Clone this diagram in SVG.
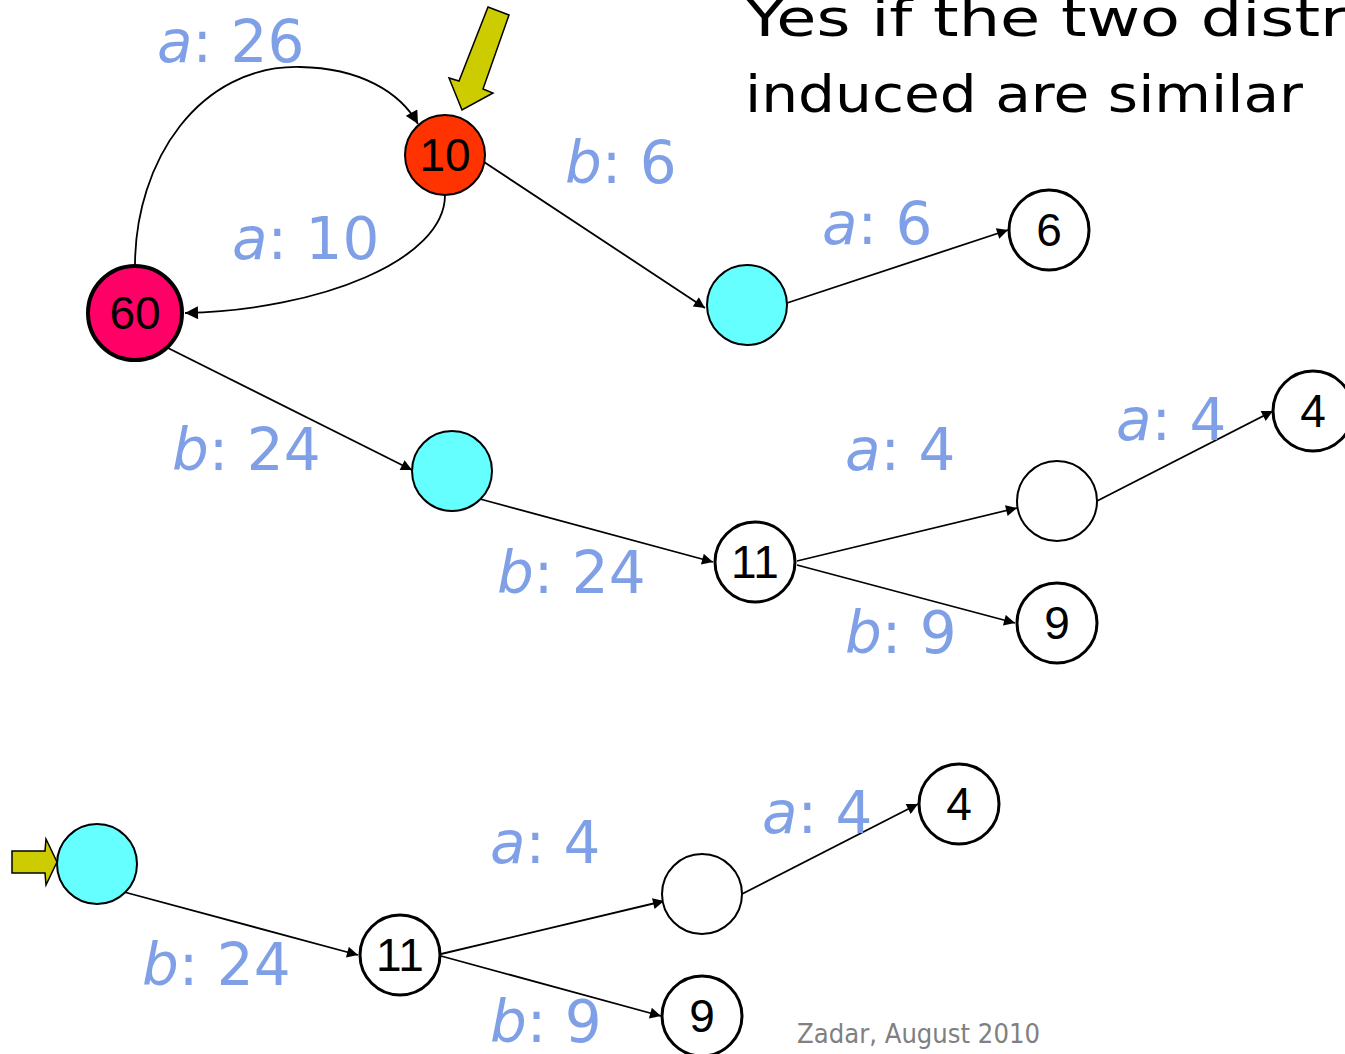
<svg xmlns="http://www.w3.org/2000/svg" width="1345" height="1054" viewBox="0 0 1345 1054">
<style>
.n{stroke:#000;stroke-width:3}
.thin{stroke-width:2}
.e{fill:none;stroke:#000;stroke-width:1.8;marker-end:url(#ah)}
.lb{font-family:"DejaVu Sans",Verdana,sans-serif;font-size:58px;fill:#7F9FE6}
.lb tspan.i{font-style:italic}
.t{font-family:"Liberation Sans",Arial,sans-serif;font-size:46px;fill:#000;text-anchor:middle}
.y{fill:#CCCC00;stroke:#000;stroke-width:1.5}
.cap{font-family:"DejaVu Sans",sans-serif;font-size:52px;fill:#000}
</style>
<defs>
<marker id="ah" viewBox="0 0 10 10" refX="10" refY="5" markerWidth="13" markerHeight="11" markerUnits="userSpaceOnUse" orient="auto">
<path d="M0,0 L10,5 L0,10 z" fill="#000"/>
</marker>
<marker id="ah2" viewBox="0 0 10 10" refX="10" refY="5" markerWidth="15" markerHeight="13" markerUnits="userSpaceOnUse" orient="auto">
<path d="M0,0 L10,5 L0,10 z" fill="#000"/>
</marker>
</defs>
<rect width="1345" height="1054" fill="#fff"/>
<g id="caption">
<text class="cap" x="745" y="36" textLength="620" lengthAdjust="spacingAndGlyphs">Yes if the two distri</text>
<text class="cap" x="745" y="112" textLength="558" lengthAdjust="spacingAndGlyphs">induced are similar</text>
</g>
<g id="connectors">
<path class="e" style="marker-end:url(#ah2)" d="M135,266 C135,160 200,65 300,67 C360,68 400,92 418,124"/>
<path class="e" style="marker-end:url(#ah2)" d="M445,195 C445,260 320,310 185,313"/>
<path class="e" d="M481,160 L705,308"/>
<path class="e" d="M787,303 L1008,230"/>
<path class="e" d="M168,348 L412,470"/>
<path class="e" d="M480,499 L713,562"/>
<path class="e" d="M797,561 L1017,508"/>
<path class="e" d="M797,565 L1015,623"/>
<path class="e" d="M1097,501 L1273,411"/>
<path class="e" d="M124,892 L358,955"/>
<path class="e" d="M441,954 L664,901"/>
<path class="e" d="M441,956 L661,1016"/>
<path class="e" d="M742,894 L918,804"/>
</g>
<g id="labels">
<text class="lb" x="157" y="62"><tspan class="i">a</tspan>: 26</text>
<text class="lb" x="232" y="259"><tspan class="i">a</tspan>: 10</text>
<text class="lb" x="565" y="183"><tspan class="i">b</tspan>: 6</text>
<text class="lb" x="822" y="244"><tspan class="i">a</tspan>: 6</text>
<text class="lb" x="172" y="470"><tspan class="i">b</tspan>: 24</text>
<text class="lb" x="845" y="470"><tspan class="i">a</tspan>: 4</text>
<text class="lb" x="1116" y="440"><tspan class="i">a</tspan>: 4</text>
<text class="lb" x="497" y="593"><tspan class="i">b</tspan>: 24</text>
<text class="lb" x="845" y="653"><tspan class="i">b</tspan>: 9</text>
<text class="lb" x="490" y="863"><tspan class="i">a</tspan>: 4</text>
<text class="lb" x="762" y="833"><tspan class="i">a</tspan>: 4</text>
<text class="lb" x="142" y="985"><tspan class="i">b</tspan>: 24</text>
<text class="lb" x="490" y="1042"><tspan class="i">b</tspan>: 9</text>
</g>
<g id="arrow-top"><polygon class="y" points="488,7 509,15 483,89 493,93 462,110 449,78 459,81"/></g>
<g id="arrow-left"><polygon class="y" points="12,851 45,851 46,839 57,862 46,885 45,873 12,873"/></g>
<g id="n10"><circle class="n thin" cx="445" cy="155" r="40" fill="#FF3300"/><text class="t" x="445" y="171">10</text></g>
<g id="n60"><circle class="n" cx="135" cy="313" r="47" fill="#FF0066" style="stroke-width:4"/><text class="t" x="135" y="329">60</text></g>
<g id="c1"><circle class="n thin" cx="747" cy="305" r="40" fill="#66FFFF"/></g>
<g id="n6"><circle class="n" cx="1049" cy="230" r="40" fill="#fff"/><text class="t" x="1049" y="246">6</text></g>
<g id="c2"><circle class="n thin" cx="452" cy="471" r="40" fill="#66FFFF"/></g>
<g id="n11a"><circle class="n" cx="755" cy="562" r="40" fill="#fff"/><text class="t" x="755" y="578">11</text></g>
<g id="e1"><circle class="n thin" cx="1057" cy="501" r="40" fill="#fff"/></g>
<g id="n4a"><circle class="n" cx="1313" cy="411" r="40" fill="#fff"/><text class="t" x="1313" y="427">4</text></g>
<g id="n9a"><circle class="n" cx="1057" cy="623" r="40" fill="#fff"/><text class="t" x="1057" y="639">9</text></g>
<g id="c3"><circle class="n thin" cx="97" cy="864" r="40" fill="#66FFFF"/></g>
<g id="n11b"><circle class="n" cx="400" cy="955" r="40" fill="#fff"/><text class="t" x="400" y="971">11</text></g>
<g id="e2"><circle class="n thin" cx="702" cy="894" r="40" fill="#fff"/></g>
<g id="n4b"><circle class="n" cx="959" cy="804" r="40" fill="#fff"/><text class="t" x="959" y="820">4</text></g>
<g id="n9b"><circle class="n" cx="702" cy="1016" r="40" fill="#fff"/><text class="t" x="702" y="1032">9</text></g>
<g id="footer"><text x="797" y="1043" font-family="DejaVu Sans, sans-serif" font-size="26" fill="#808080" textLength="243" lengthAdjust="spacingAndGlyphs">Zadar, August 2010</text></g>
</svg>
